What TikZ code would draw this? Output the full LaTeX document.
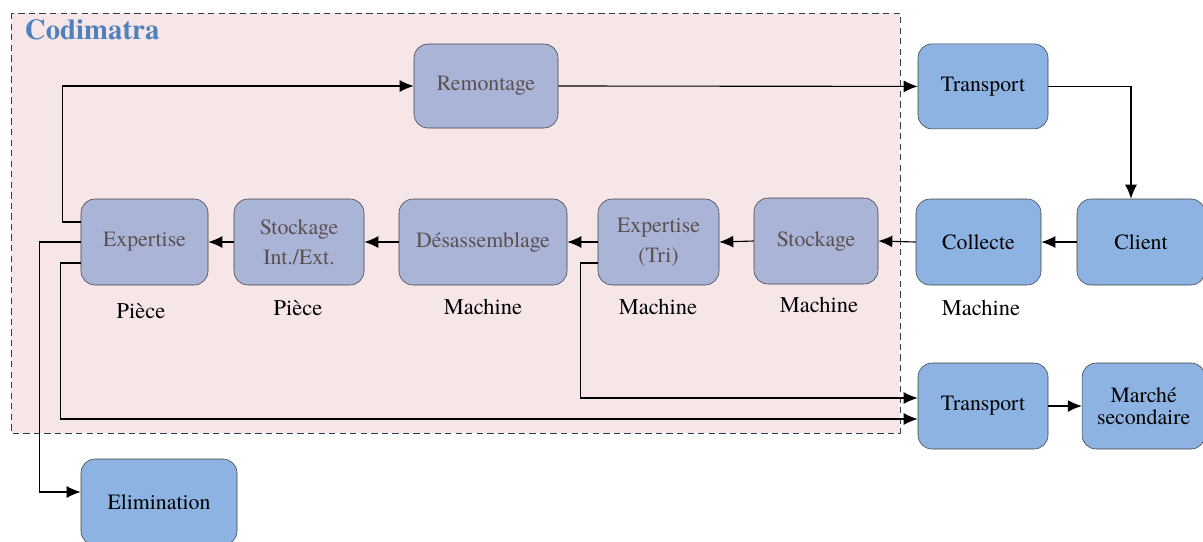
\documentclass[tikz,border=0pt]{standalone}
\usepackage{fontspec}
\setmainfont{TeX Gyre Termes}
\usepackage{tikz}
\usetikzlibrary{arrows.meta}
\tikzset{flow/.style = {line width=0.8pt, -{Latex[length=10pt, width=8.5pt]}}}
\tikzset{inbox/.style = {draw=dgray, fill=mpurple, text=mtext, rounded corners=0.35cm,
                         align=center, inner sep=0, font=\fontsize{15.5}{21}\selectfont}}
\tikzset{outbox/.style = {draw=dgray, fill=mblue, text=black, rounded corners=0.35cm,
                          align=center, inner sep=0, font=\fontsize{15.5}{21}\selectfont}}
\tikzset{lvl/.style = {font=\fontsize{16}{18}\selectfont}}
\definecolor{mblue}{RGB}{141, 179, 226}
\definecolor{mpurple}{RGB}{170, 180, 214}
\definecolor{mpink}{RGB}{247, 230, 231}
\definecolor{mtext}{RGB}{90, 80, 80}
\definecolor{dgray}{RGB}{64, 64, 64}
\definecolor{mframe}{RGB}{45, 60, 90}
\definecolor{mtitle}{RGB}{79, 129, 189}

\begin{document}
\begin{tikzpicture}
    \useasboundingbox (0, 0) rectangle (30.075, -13.525);

    \draw [mframe, line width=0.6pt, dash pattern=on 4.5pt off 3pt, fill=mpink]
      (0.275, -0.325) rectangle (22.5, -10.825);
    \node (codi) [anchor = west, text=mtitle, font=\fontsize{20.5}{24}\selectfont\bfseries]
      at (0.5, -0.75) {Codimatra};

    % dans l'entreprise
    \node (rem) [inbox, minimum width=3.6cm, minimum height=2.1cm] at (12.15, -2.15) {Remontage};
    \node (exp) [inbox, minimum width=3.175cm, minimum height=2.15cm] at (3.6125, -6.05) {Expertise};
    \node (stie) [inbox, minimum width=3.25cm, minimum height=2.15cm] at (7.475, -6.05) {Stockage\\Int./Ext.};
    \node (des) [inbox, minimum width=4.2cm, minimum height=2.15cm] at (12.075, -6.05) {Désassemblage};
    \node (tri) [inbox, minimum width=3.025cm, minimum height=2.15cm] at (16.4625, -6.05) {Expertise\\(Tri)};
    \node (sto) [inbox, minimum width=3.1cm, minimum height=2.15cm] at (20.4, -6.025) {Stockage};

    % dehors
    \node (trtop) [outbox, minimum width=3.25cm, minimum height=2.125cm] at (24.575, -2.16) {Transport};
    \node (col) [outbox, minimum width=3.125cm, minimum height=2.15cm] at (24.4625, -6.05) {Collecte};
    \node (cli) [outbox, minimum width=3.2cm, minimum height=2.15cm] at (28.525, -6.05) {Client};
    \node (trbot) [outbox, minimum width=3.25cm, minimum height=2.15cm] at (24.575, -10.15) {Transport};
    \node (mar) [outbox, minimum width=3.075cm, minimum height=2.15cm, font=\fontsize{15.5}{16}\selectfont]
      at (28.59, -10.15) {Marché\\secondaire};
    \node (eli) [outbox, minimum width=3.9cm, minimum height=2.15cm] at (3.975, -12.55) {Elimination};

    \node (lexp) [lvl] at (3.525, -7.775) {Pièce};
    \node (lstie) [lvl] at (7.45, -7.7) {Pièce};
    \node (ldes) [lvl] at (12.075, -7.675) {Machine};
    \node (ltri) [lvl] at (16.45, -7.675) {Machine};
    \node (lsto) [lvl] at (20.475, -7.625) {Machine};
    \node (lcol) [lvl] at (24.525, -7.7) {Machine};

    \draw [flow] ([yshift=0.5cm]exp.west) -- ++(-0.45, 0) |- (rem.west);
    \draw [flow] (rem.east) -- (trtop.west);
    \draw [flow] (trtop.east) -| ([xshift=-0.25cm]cli.north);
    \draw [flow] (cli.west) -- (col.east);
    \draw [flow] (col.west) -- (sto.east);
    \draw [flow] (sto.west) -- (tri.east);
    \draw [flow] (tri.west) -- (des.east);
    \draw [flow] (des.west) -- (stie.east);
    \draw [flow] (stie.west) -- (exp.east);
    \draw [flow] (exp.west) -- ++(-1.025, 0) |- ([yshift=0.25cm]eli.west);
    \draw [flow] ([yshift=-0.525cm]exp.west) -- ++(-0.5, 0) |- ([yshift=-0.325cm]trbot.west);
    \draw [flow] ([yshift=-0.525cm]tri.west) -- ++(-0.425, 0) |- ([yshift=0.2cm]trbot.west);
    \draw [flow] (trbot.east) -- (mar.west);
\end{tikzpicture}
\end{document}
